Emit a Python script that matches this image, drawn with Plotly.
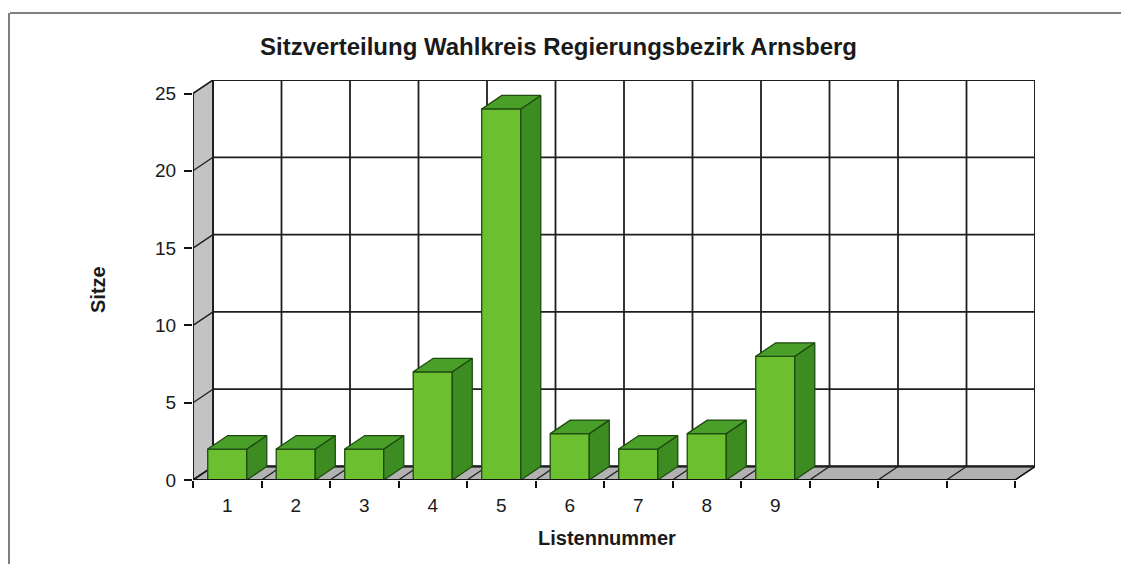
import plotly.graph_objects as go

# ---- data ----
categories = [1, 2, 3, 4, 5, 6, 7, 8, 9, 10, 11, 12]
tick_labels = ["1", "2", "3", "4", "5", "6", "7", "8", "9", "", "", ""]
seats = [2, 2, 2, 7, 24, 3, 2, 3, 8]
y_ticks = [0, 5, 10, 15, 20, 25]

title = "Sitzverteilung Wahlkreis Regierungsbezirk Arnsberg"
x_title = "Listennummer"
y_title = "Sitze"

# ---- 3D projection parameters (in axis units) ----
DX = 0.292   # depth offset along x
DY = 0.873   # depth offset along y
BW = 0.57    # bar width
YMAX = 25
n = len(categories)
x0, x1 = 0.5, n + 0.5

OFF = 8  # page body margin used by the html page

FONT = "Liberation Sans, Arial, sans-serif"
LINE = "#1e1e1e"
WALL = "#c3c3c3"
FLOOR = "#b2b2b2"
FRONT = "#6cbf2e"
TOP = "#4a9f28"
SIDE = "#3d8c22"
EDGE = "#1d4a10"
TXT = "#1a1a1a"

fig = go.Figure()

def poly(xs, ys, fill, line_color, width):
    fig.add_trace(go.Scatter(
        x=xs + [xs[0]], y=ys + [ys[0]], mode="lines", fill="toself",
        fillcolor=fill, line=dict(color=line_color, width=width),
        hoverinfo="skip", showlegend=False))

def seg(xs, ys, color=LINE, width=1.8):
    fig.add_trace(go.Scatter(
        x=xs, y=ys, mode="lines", line=dict(color=color, width=width),
        hoverinfo="skip", showlegend=False, connectgaps=False))

# back wall (white)
poly([x0 + DX, x1 + DX, x1 + DX, x0 + DX], [DY, DY, YMAX + DY, YMAX + DY],
     "white", LINE, 1.8)
# left wall
poly([x0, x0 + DX, x0 + DX, x0], [0, DY, YMAX + DY, YMAX], WALL, LINE, 1.5)
# floor
poly([x0, x1, x1 + DX, x0 + DX], [0, 0, DY, DY], FLOOR, LINE, 1.5)

# back wall gridlines (horizontal)
gx, gy = [], []
for v in y_ticks:
    gx += [x0 + DX, x1 + DX, None]
    gy += [v + DY, v + DY, None]
seg(gx, gy)
# back wall gridlines (vertical)
gx, gy = [], []
for k in range(n + 1):
    xv = x0 + k + DX
    gx += [xv, xv, None]
    gy += [DY, YMAX + DY, None]
seg(gx, gy)
# left wall gridlines
gx, gy = [], []
for v in y_ticks:
    gx += [x0, x0 + DX, None]
    gy += [v, v + DY, None]
seg(gx, gy, width=1.3)
# floor division lines
gx, gy = [], []
for k in range(n + 1):
    gx += [x0 + k, x0 + k + DX, None]
    gy += [0, DY, None]
seg(gx, gy, width=1.3)

# bars
for c, v in zip(categories, seats):
    l, r = c - BW / 2, c + BW / 2
    poly([l, r, r, l], [0, 0, v, v], FRONT, EDGE, 1.3)
    poly([r, r + DX, r + DX, r], [0, DY, v + DY, v], SIDE, EDGE, 1.3)
    poly([l, r, r + DX, l + DX], [v, v, v + DY, v + DY], TOP, EDGE, 1.3)

# front axis lines
seg([x0, x1], [0, 0], color="#111111", width=2)
seg([x0, x0], [0, YMAX], color="#111111", width=1.5)

fig.update_layout(
    width=1129, height=564,
    margin=dict(l=193 - OFF, r=94 + OFF, t=80 - OFF, b=84 + OFF),
    paper_bgcolor="white", plot_bgcolor="white",
    font=dict(family=FONT, size=20, color=TXT),
    showlegend=False,
    xaxis=dict(
        range=[x0, x1 + DX], showgrid=False, zeroline=False, showline=False,
        tickmode="array", tickvals=categories, ticktext=tick_labels,
        ticks="outside", ticklen=8, tickcolor="rgba(0,0,0,0)",
        minor=dict(tickmode="array", tickvals=[x0 + k for k in range(n + 1)],
                   ticks="outside", ticklen=7, tickcolor="#111111", tickwidth=1.5),
        tickfont=dict(family=FONT, size=19, color=TXT),
        fixedrange=True,
    ),
    yaxis=dict(
        range=[0, YMAX + DY], showgrid=False, zeroline=False, showline=False,
        tickmode="array", tickvals=y_ticks, ticks="outside", ticklen=8,
        tickcolor="#111111", tickwidth=1.5, ticklabelstandoff=4,
        tickfont=dict(family=FONT, size=19, color=TXT),
        fixedrange=True,
    ),
    title=dict(text=title, x=(558.5 - OFF) / 1129, xref="container", xanchor="center",
               y=1 - (47 - OFF) / 564, yref="container", yanchor="middle",
               font=dict(family=FONT, size=24, color=TXT, weight="bold")),
    annotations=[
        dict(text=y_title, xref="paper", yref="paper", x=(98 - 193) / 842,
             y=(480 - 290) / 400, showarrow=False, textangle=-90,
             xanchor="center", yanchor="middle",
             font=dict(family=FONT, size=20, color=TXT, weight="bold")),
        dict(text=x_title, xref="paper", yref="paper", x=(607 - 193) / 842,
             y=(480 - 538) / 400, showarrow=False,
             xanchor="center", yanchor="middle",
             font=dict(family=FONT, size=20, color=TXT, weight="bold")),
    ],
    shapes=[
        dict(type="line", xref="paper", yref="paper",
             x0=(10 - 193) / 842, x1=(1129 - 193) / 842,
             y0=(480 - 13) / 400, y1=(480 - 13) / 400,
             line=dict(color="#555555", width=1.5)),
        dict(type="line", xref="paper", yref="paper",
             x0=(9 - 193) / 842, x1=(9 - 193) / 842,
             y0=(480 - 13) / 400, y1=(480 - 564) / 400,
             line=dict(color="#555555", width=1.5)),
    ],
)

fig.write_html("out.html")
